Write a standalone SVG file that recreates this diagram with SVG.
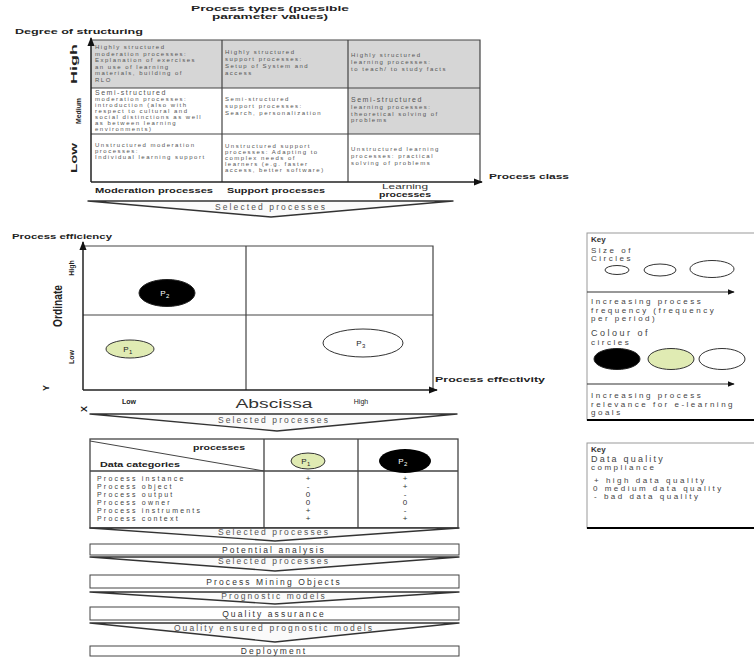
<svg xmlns="http://www.w3.org/2000/svg" width="754" height="657" viewBox="0 0 754 657">
<style>
text{font-family:"Liberation Sans",Arial,sans-serif}
.hd{font-size:7.5px;font-weight:bold;fill:#222}
.ct{font-size:6px;fill:#555;letter-spacing:1.5px}
.grid{stroke:#444;stroke-width:1.2;fill:none}
.ax{stroke:#222;stroke-width:1.5;fill:none}
.chev{fill:#fafafa;stroke:#333;stroke-width:1.4;stroke-linejoin:round}
.ch{font-size:8.5px;fill:#555;letter-spacing:2.1px;text-anchor:middle}
.box{fill:#fff;stroke:#444;stroke-width:1}
.key{fill:#fff;stroke:#999;stroke-width:1}
.kt{font-size:8px;fill:#444;letter-spacing:2.5px}
.tb{font-size:7px;fill:#444;letter-spacing:2.2px}
.v{font-size:8px;fill:#333;text-anchor:middle}
.pl{font-size:8px;fill:#222;text-anchor:middle;letter-spacing:0.5px}
</style>
<defs>
<marker id="ah" viewBox="0 0 10 10" refX="9" refY="5" markerWidth="6" markerHeight="6" orient="auto-start-reverse">
<path d="M0,1 L10,5 L0,9 Z" fill="#111"/>
</marker>
</defs>

<!-- headings -->
<g id="headings">
<text class="hd" x="270" y="11" text-anchor="middle" textLength="158" lengthAdjust="spacingAndGlyphs">Process types (possible</text>
<text class="hd" x="270" y="19" text-anchor="middle" textLength="116" lengthAdjust="spacingAndGlyphs">parameter values)</text>
<text class="hd" x="15" y="34" textLength="128" lengthAdjust="spacingAndGlyphs">Degree of structuring</text>
</g>

<!-- process type matrix -->
<g id="matrix">
<rect x="91" y="40" width="389" height="48" fill="#d6d6d6"/>
<rect x="348" y="88" width="132" height="46" fill="#d6d6d6"/>
<path class="grid" d="M91,40 H480 V182 M91,88 H480 M91,134 H480 M222,40 V182 M348,40 V182"/>
<path class="ax" d="M91,182 V38" marker-end="url(#ah)"/>
<path class="ax" d="M91,182 H482" marker-end="url(#ah)"/>

<text class="ct"><tspan x="95" y="49">Highly structured</tspan><tspan x="95" y="55.5">moderation processes:</tspan><tspan x="95" y="62">Explanation of exercises</tspan><tspan x="95" y="68.5">an use of learning</tspan><tspan x="95" y="75">materials, building of</tspan><tspan x="95" y="81.5">RLO</tspan></text>
<text class="ct"><tspan x="225" y="54">Highly structured</tspan><tspan x="225" y="61">support processes:</tspan><tspan x="225" y="68">Setup of System and</tspan><tspan x="225" y="75">access</tspan></text>
<text class="ct"><tspan x="351" y="57">Highly structured</tspan><tspan x="351" y="64">learning processes:</tspan><tspan x="351" y="71">to teach/ to study facts</tspan></text>

<text class="ct"><tspan x="95" y="95" style="font-size:7px">Semi-structured</tspan><tspan x="95" y="101">moderation processes:</tspan><tspan x="95" y="107">introduction (also with</tspan><tspan x="95" y="113">respect to cultural and</tspan><tspan x="95" y="119">social distinctions as well</tspan><tspan x="95" y="125">as between learning</tspan><tspan x="95" y="131">environments)</tspan></text>
<text class="ct"><tspan x="225" y="101">Semi-structured</tspan><tspan x="225" y="108">support processes:</tspan><tspan x="225" y="115">Search, personalization</tspan></text>
<text class="ct"><tspan x="351" y="102" style="font-size:7px">Semi-structured</tspan><tspan x="351" y="109">learning processes:</tspan><tspan x="351" y="115.5">theoretical solving of</tspan><tspan x="351" y="122">problems</tspan></text>

<text class="ct"><tspan x="95" y="147">Unstructured moderation</tspan><tspan x="95" y="153">processes:</tspan><tspan x="95" y="159">Individual learning support</tspan></text>
<text class="ct"><tspan x="225" y="148">Unstructured support</tspan><tspan x="225" y="154">processes: Adapting to</tspan><tspan x="225" y="160">complex needs of</tspan><tspan x="225" y="166">learners (e.g. faster</tspan><tspan x="225" y="172">access, better software)</tspan></text>
<text class="ct"><tspan x="351" y="151">Unstructured learning</tspan><tspan x="351" y="158">processes: practical</tspan><tspan x="351" y="165">solving of problems</tspan></text>

<text class="hd" transform="translate(77,64) rotate(-90)" text-anchor="middle" textLength="40" lengthAdjust="spacingAndGlyphs" style="font-size:9px">High</text>
<text class="hd" transform="translate(81,111) rotate(-90)" text-anchor="middle" textLength="26" lengthAdjust="spacingAndGlyphs" style="font-size:8px">Medium</text>
<text class="hd" transform="translate(77,158) rotate(-90)" text-anchor="middle" textLength="30" lengthAdjust="spacingAndGlyphs" style="font-size:9px">Low</text>

<text class="hd" x="95" y="193" textLength="118" lengthAdjust="spacingAndGlyphs">Moderation processes</text>
<text class="hd" x="227" y="193" textLength="98" lengthAdjust="spacingAndGlyphs">Support processes</text>
<text class="hd" x="405" y="188.5" text-anchor="middle" style="font-weight:normal;fill:#333;font-size:7px" textLength="46" lengthAdjust="spacingAndGlyphs">Learning</text>
<text class="hd" x="405" y="196.5" text-anchor="middle" style="font-size:7px" textLength="52" lengthAdjust="spacingAndGlyphs">processes</text>
<text class="hd" x="489" y="179" textLength="80" lengthAdjust="spacingAndGlyphs">Process class</text>
</g>

<!-- process efficiency chart -->
<g id="chart">
<text class="hd" x="12" y="239" textLength="100" lengthAdjust="spacingAndGlyphs">Process efficiency</text>
<path class="grid" d="M83,246 H433 V390 M83,315 H433 M246,246 V390"/>
<path class="ax" d="M83,390 V242" marker-end="url(#ah)"/>
<path class="ax" d="M83,390 H437" marker-end="url(#ah)"/>
<text class="hd" transform="translate(62,306) rotate(-90)" text-anchor="middle" textLength="42" lengthAdjust="spacingAndGlyphs" style="font-size:12px">Ordinate</text>
<text class="hd" transform="translate(74,268) rotate(-90)" text-anchor="middle" style="font-size:7px">High</text>
<text class="hd" transform="translate(74,357) rotate(-90)" text-anchor="middle" style="font-size:7px">Low</text>
<text class="hd" transform="translate(49,388) rotate(-90)" text-anchor="middle" style="font-size:9px">Y</text>
<text class="hd" transform="translate(87,409) rotate(-90)" text-anchor="middle" style="font-size:9px">X</text>
<text class="hd" x="129" y="404" text-anchor="middle" style="font-size:7px">Low</text>
<text x="274" y="408" text-anchor="middle" style="font-size:12px;fill:#333" textLength="77" lengthAdjust="spacingAndGlyphs">Abscissa</text>
<text class="hd" x="361" y="404" text-anchor="middle" style="font-size:7px;font-weight:normal">High</text>
<text class="hd" x="435" y="382" textLength="110" lengthAdjust="spacingAndGlyphs">Process effectivity</text>
</g>
<g id="P2">
<ellipse cx="167" cy="293" rx="28" ry="13.5" fill="#000" stroke="#222"/>
<text class="pl" x="165" y="296" style="fill:#fff">P<tspan dy="2" font-size="6">2</tspan></text>
</g>
<g id="P1">
<ellipse cx="130" cy="349" rx="24" ry="9" fill="#e0ebb3" stroke="#333"/>
<text class="pl" x="128" y="352">P<tspan dy="2" font-size="6">1</tspan></text>
</g>
<g id="P3">
<ellipse cx="363" cy="343" rx="40" ry="14" fill="#fff" stroke="#333"/>
<text class="pl" x="361" y="346">P<tspan dy="2" font-size="6">3</tspan></text>
</g>

<!-- key 1 -->
<g id="key1">
<rect class="key" x="587" y="233" width="180" height="187"/>
<path d="M587,420 H754" stroke="#000" stroke-width="2"/>
<text x="591" y="242" style="font-size:8px;font-weight:bold;fill:#333">Key</text>
<text class="kt"><tspan x="591" y="253">Size of</tspan><tspan x="591" y="261">Circles</tspan></text>
<ellipse cx="617" cy="270" rx="12" ry="4.5" fill="#fff" stroke="#333"/>
<ellipse cx="660" cy="270" rx="16" ry="6" fill="#fff" stroke="#333"/>
<ellipse cx="712" cy="269" rx="22" ry="8.5" fill="#fff" stroke="#333"/>
<path d="M587,292 H734" stroke="#333" stroke-width="1.2" marker-end="url(#ah)"/>
<text class="kt"><tspan x="591" y="304">Increasing process</tspan><tspan x="591" y="312.5">frequency (frequency</tspan><tspan x="591" y="321">per period)</tspan></text>
<text class="kt"><tspan x="591" y="336" style="font-size:9px">Colour of</tspan><tspan x="591" y="345">circles</tspan></text>
<ellipse cx="617" cy="359" rx="23" ry="10.5" fill="#000" stroke="#222"/>
<ellipse cx="671" cy="359" rx="23" ry="10.5" fill="#e0ebb3" stroke="#333"/>
<ellipse cx="722" cy="359" rx="23" ry="10.5" fill="#fff" stroke="#333"/>
<path d="M587,384 H734" stroke="#333" stroke-width="1.2" marker-end="url(#ah)"/>
<text class="kt"><tspan x="591" y="398">Increasing process</tspan><tspan x="591" y="406.5">relevance for e-learning</tspan><tspan x="591" y="415">goals</tspan></text>
</g>

<!-- key 2 -->
<g id="key2">
<rect class="key" x="587" y="443" width="180" height="85"/>
<path d="M587,528 H754" stroke="#000" stroke-width="2"/>
<text x="591" y="452" style="font-size:8px;font-weight:bold;fill:#333">Key</text>
<text class="kt"><tspan x="591" y="462" style="font-size:9px;letter-spacing:2.2px">Data quality</tspan><tspan x="591" y="470">compliance</tspan></text>
<text class="kt"><tspan x="594" y="483">+ high data quality</tspan><tspan x="593" y="491">0 medium data quality</tspan><tspan x="594" y="499">- bad data quality</tspan></text>
</g>

<!-- data quality table -->
<g id="table">
<rect x="90" y="439" width="368" height="89" fill="#fff" stroke="#444" stroke-width="1.3"/>
<path d="M90,471 H458 M264,439 V528 M358,439 V528" stroke="#444" stroke-width="1.3"/>
<path d="M90,441 L264,471" stroke="#444" stroke-width="1"/>
<text class="hd" x="245" y="450" text-anchor="end" textLength="52" lengthAdjust="spacingAndGlyphs" style="font-size:7px">processes</text>
<text class="hd" x="100" y="467" textLength="80" lengthAdjust="spacingAndGlyphs" style="font-size:7px">Data categories</text>
<ellipse cx="308" cy="461" rx="17" ry="8" fill="#e0ebb3" stroke="#333"/>
<text class="pl" x="306" y="464">P<tspan dy="2" font-size="6">1</tspan></text>
<ellipse cx="405" cy="461" rx="26" ry="12" fill="#000"/>
<text class="pl" x="403" y="464" style="fill:#fff">P<tspan dy="2" font-size="6">2</tspan></text>
<text class="tb"><tspan x="97" y="481">Process instance</tspan><tspan x="97" y="489">Process object</tspan><tspan x="97" y="497">Process output</tspan><tspan x="97" y="505">Process owner</tspan><tspan x="97" y="513">Process instruments</tspan><tspan x="97" y="521">Process context</tspan></text>
<text class="v"><tspan x="308" y="481">+</tspan><tspan x="308" y="489">-</tspan><tspan x="308" y="497">0</tspan><tspan x="308" y="505">0</tspan><tspan x="308" y="513">+</tspan><tspan x="308" y="521">+</tspan></text>
<text class="v"><tspan x="405" y="481">+</tspan><tspan x="405" y="489">+</tspan><tspan x="405" y="497">-</tspan><tspan x="405" y="505">0</tspan><tspan x="405" y="513">-</tspan><tspan x="405" y="521">+</tspan></text>
</g>

<!-- pipeline boxes -->
<g id="potential-analysis">
<rect class="box" x="90" y="544" width="369" height="11"/>
<text class="ch" x="274" y="552.5" style="fill:#333">Potential analysis</text>
</g>
<g id="process-mining-objects">
<rect class="box" x="90" y="575" width="369" height="13"/>
<text class="ch" x="274" y="584.5" style="fill:#333">Process Mining Objects</text>
</g>
<g id="quality-assurance">
<rect class="box" x="90" y="607" width="369" height="13"/>
<text class="ch" x="274" y="616.5" style="fill:#333">Quality assurance</text>
</g>
<g id="deployment">
<rect class="box" x="90" y="646" width="369" height="10"/>
<text class="ch" x="274" y="654" style="fill:#333">Deployment</text>
</g>

<!-- connectors (flow chevrons) -->
<g id="connectors">
<path class="chev" d="M88,201 H453 L271,217 Z"/>
<text class="ch" x="271" y="210">Selected processes</text>
<path class="chev" d="M90,414 H457 L277,431 Z"/>
<text class="ch" x="274" y="423">Selected processes</text>
<path class="chev" d="M90,528 H459 L275,541 Z"/>
<text class="ch" x="274" y="535">Selected processes</text>
<path class="chev" d="M90,557 H459 L275,571 Z"/>
<text class="ch" x="274" y="564">Selected processes</text>
<path class="chev" d="M90,592 H459 L275,604 Z"/>
<text class="ch" x="274" y="599">Prognostic models</text>
<path class="chev" d="M90,623 H459 L275,642 Z"/>
<text class="ch" x="274" y="631">Quality ensured prognostic models</text>
</g>
</svg>
